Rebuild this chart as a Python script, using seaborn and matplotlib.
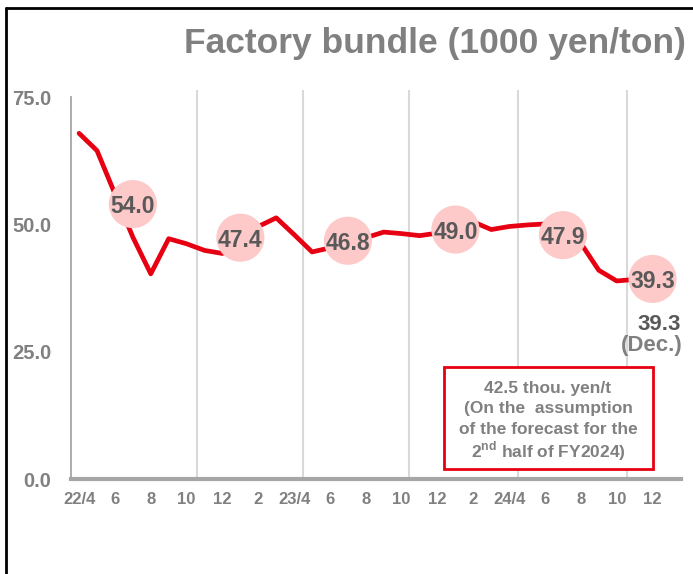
import pandas as pd
import seaborn as sns
import matplotlib.pyplot as plt
from matplotlib.lines import Line2D
from matplotlib.patches import Rectangle

# Preco mensal (1000 yen/ton), 22/4 ate 24/12
month_labels = ["22/4", "", "6", "", "8", "", "10", "", "12", "", "2", "",
                "23/4", "", "6", "", "8", "", "10", "", "12", "", "2", "",
                "24/4", "", "6", "", "8", "", "10", "", "12"]
prices = [67.9, 64.5, 56.0, 47.5, 40.3, 47.2,
          46.2, 44.9, 44.3, 48.1, 49.6, 51.3,
          48.0, 44.6, 45.4, 46.7, 47.4, 48.5,
          48.2, 47.8, 48.3, 50.2, 50.5, 49.0,
          49.6, 49.9, 50.1, 50.5, 46.3, 41.0,
          38.9, 39.2, 39.3]

# medias semestrais (bolhas)
avg_pos = [3, 9, 15, 21, 27, 32]
avg_vals = [54.0, 47.4, 46.8, 49.0, 47.9, 39.3]

y_ticks = [0, 25, 50, 75]
dec_value = 39.3

GRAY = "#808080"
DARK = "#595959"
RED = "#e60012"

sns.set_style("white")
plt.rcParams['font.family'] = ['Liberation Sans', 'DejaVu Sans']
plt.rcParams['mathtext.fontset'] = 'custom'
plt.rcParams['mathtext.rm'] = 'Liberation Sans:bold'
plt.rcParams['mathtext.bf'] = 'Liberation Sans:bold'

dados = pd.DataFrame({"m": range(len(prices)), "price": prices})

fig, ax = plt.subplots(figsize=(6.93, 5.74), dpi=100)
fig.subplots_adjust(left=0.1025, right=0.983, bottom=0.1655, top=0.844)

# linhas verticais separando os semestres
for gx in [6.6, 12.5, 18.4, 24.5, 30.6]:
    ax.axvline(gx, color="#d9d9d9", lw=1.5, zorder=1)

sns.lineplot(data=dados, x="m", y="price", color=RED, linewidth=3.4, ax=ax, zorder=3)
sns.scatterplot(x=avg_pos, y=avg_vals, s=1200, color="#fdc9c9", edgecolor="none",
                ax=ax, zorder=4)
for x, v in zip(avg_pos, avg_vals):
    ax.text(x, v, f"{v:.1f}", ha="center", va="center_baseline", fontsize=16.5,
            fontweight="bold", color=DARK, zorder=5)

ax.set_xlim(-0.45, 33.6)
ax.set_ylim(0, 76.5)
ax.set_xticks(range(len(month_labels)))
ax.set_xticklabels(month_labels)
ax.set_yticks(y_ticks)
ax.set_yticklabels([f"{t:.1f}" for t in y_ticks])
ax.set_xlabel("")
ax.set_ylabel("")

ax.tick_params(axis="x", direction="in", length=5, width=2.2, color="#a6a6a6",
               pad=9, labelsize=12, labelcolor=GRAY)
ax.tick_params(axis="y", direction="in", length=5, width=1.3, color="#a6a6a6",
               pad=14, labelsize=14.5, labelcolor=GRAY)
for lbl in ax.get_xticklabels() + ax.get_yticklabels():
    lbl.set_fontweight("bold")

sns.despine(ax=ax)
ax.spines["left"].set_color("#a6a6a6")
ax.spines["left"].set_linewidth(1.3)
ax.spines["left"].set_bounds(0, 75)
ax.spines["bottom"].set_color("#a6a6a6")
ax.spines["bottom"].set_linewidth(3)

# valor de dezembro
ax.text(33.6, 30.4, f"{dec_value:.1f}", ha="right", va="center", fontsize=16,
        fontweight="bold", color=DARK, clip_on=False)
ax.text(33.7, 26.3, "(Dec.)", ha="right", va="center", fontsize=16,
        fontweight="bold", color=GRAY, clip_on=False)

# Titulo
fig.text(686 / 693, 1 - 43 / 574, "Factory bundle (1000 yen/ton)", ha="right",
         va="center", fontsize=25.5, fontweight="bold", color=GRAY)

# caixa da previsao
fig.add_artist(Rectangle((444 / 693, 1 - 469 / 574), 209 / 693, 102 / 574,
                         transform=fig.transFigure, facecolor="white",
                         edgecolor=RED, lw=2, zorder=6))
box_lines = ["42.5 thou. yen/t", "(On the  assumption", "of the forecast for the",
             r"2$^{\mathrm{nd}}$ half of FY2024)"]
for i, txt in enumerate(box_lines):
    fig.text(548 / 693, 1 - (388 + 21 * i) / 574, txt, ha="center", va="center",
             fontsize=12.5, fontweight="bold", color=GRAY, zorder=7)

# moldura
fig.add_artist(Line2D([6 / 693, 1], [1 - 8 / 574] * 2, color="black", lw=2))
fig.add_artist(Line2D([6 / 693] * 2, [0, 1 - 8 / 574], color="black", lw=2))

fig.savefig("out.png", dpi=100)
